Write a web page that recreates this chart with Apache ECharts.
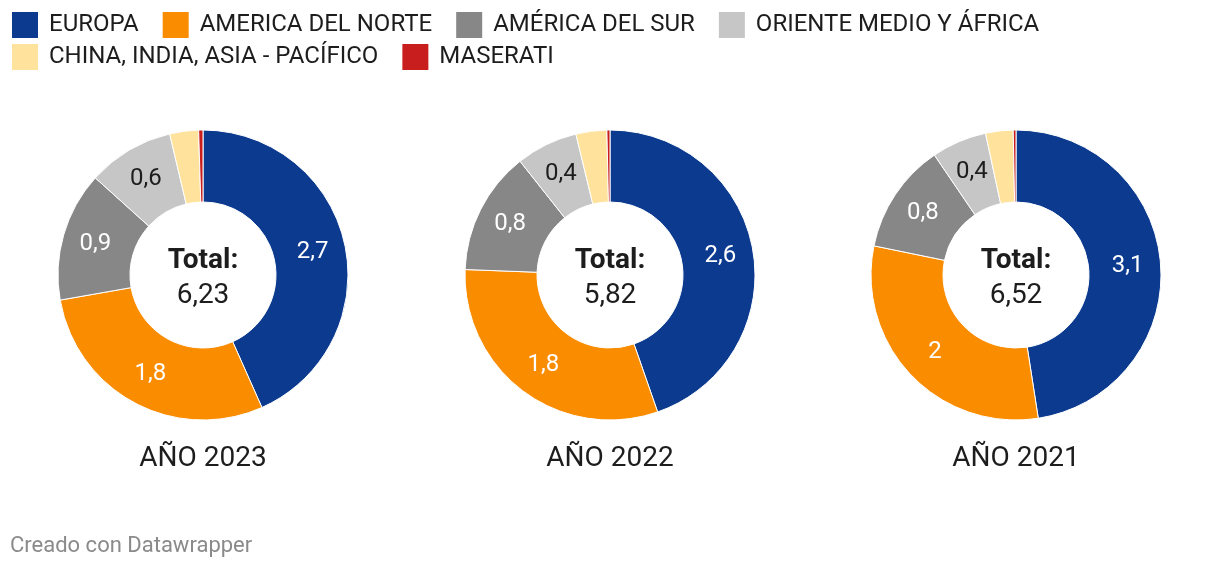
<!DOCTYPE html>
<html><head><meta charset="utf-8">
<script src="https://cdn.jsdelivr.net/npm/echarts@6/dist/echarts.min.js"></script>
<style>html,body{margin:0;padding:0;background:#fff}#c{width:1220px;height:568px}</style>
</head><body><div id="c"></div>
<script>
const regions = ['EUROPA','AMERICA DEL NORTE','AMÉRICA DEL SUR','ORIENTE MEDIO Y ÁFRICA','CHINA, INDIA, ASIA - PACÍFICO','MASERATI'];
const colors = ['#0b3a8f','#fa8c00','#878787','#c6c6c6','#ffe29c','#c81f1e'];
const labelColors = ['#ffffff','#ffffff','#ffffff','#1d1d1d','#1d1d1d','#1d1d1d'];
const years = ['AÑO 2023','AÑO 2022','AÑO 2021'];
const values2023 = [2.7, 1.8, 0.9, 0.6, 0.2, 0.03];
const values2022 = [2.6, 1.8, 0.8, 0.4, 0.2, 0.02];
const values2021 = [3.1, 2.0, 0.8, 0.4, 0.2, 0.02];
const allValues = [values2023, values2022, values2021];
const centersX = [203, 610, 1016];
const centerY = 275;

const fmt = v => String(v).replace('.', ',');
const font = 'Roboto, "Noto Sans", sans-serif';

const series = allValues.map((vals, i) => ({
  type: 'pie',
  center: [centersX[i], centerY],
  radius: [73, 145],
  startAngle: 90,
  clockwise: true,
  avoidLabelOverlap: false,
  animation: false,
  silent: true,
  itemStyle: { borderColor: '#ffffff', borderWidth: 1 },
  label: {
    show: true, position: 'inside', fontFamily: font, fontSize: 24,
    formatter: p => (p.value >= 0.3 ? fmt(p.value) : '')
  },
  labelLine: { show: false },
  data: regions.map((r, k) => ({
    name: r, value: vals[k],
    itemStyle: { color: colors[k] },
    label: { color: labelColors[k] }
  }))
}));

const titles = [];
allValues.forEach((vals, i) => {
  const total = vals.reduce((a, b) => a + b, 0);
  titles.push({
    text: '{b|Total:}\n{n|' + fmt(total.toFixed(2)) + '}',
    left: centersX[i], top: 243, textAlign: 'center', padding: 0,
    textStyle: { fontWeight: 'normal', rich: {
      b: { fontFamily: font, fontSize: 28, fontWeight: 'bold', color: '#1d1d1d', lineHeight: 36 },
      n: { fontFamily: font, fontSize: 28, fontWeight: 'normal', color: '#1d1d1d', lineHeight: 34 }
    } }
  });
  titles.push({
    text: years[i], left: centersX[i], top: 445, textAlign: 'center', padding: 0,
    textStyle: { fontFamily: font, fontSize: 28, fontWeight: 'normal', color: '#1d1d1d' }
  });
});
titles.push({
  text: 'Creado con Datawrapper', left: 10, top: 535, padding: 0,
  textStyle: { fontFamily: font, fontSize: 22, fontWeight: 'normal', color: '#8a8a8a' }
});

const legendBase = {
  orient: 'horizontal', icon: 'rect', itemWidth: 28, itemHeight: 28, itemGap: 22,
  selectedMode: false, padding: 0,
  textStyle: { fontFamily: font, fontSize: 24, color: '#1d1d1d', padding: [0, 0, 0, 5] }
};

const chart = echarts.init(document.getElementById('c'), null, { renderer: 'canvas' });
chart.setOption({
  backgroundColor: '#ffffff',
  title: titles,
  legend: [
    Object.assign({}, legendBase, { left: 10, top: 10, data: regions.slice(0, 4) }),
    Object.assign({}, legendBase, { left: 10, top: 42, data: regions.slice(4) })
  ],
  series: series
});
</script></body></html>
